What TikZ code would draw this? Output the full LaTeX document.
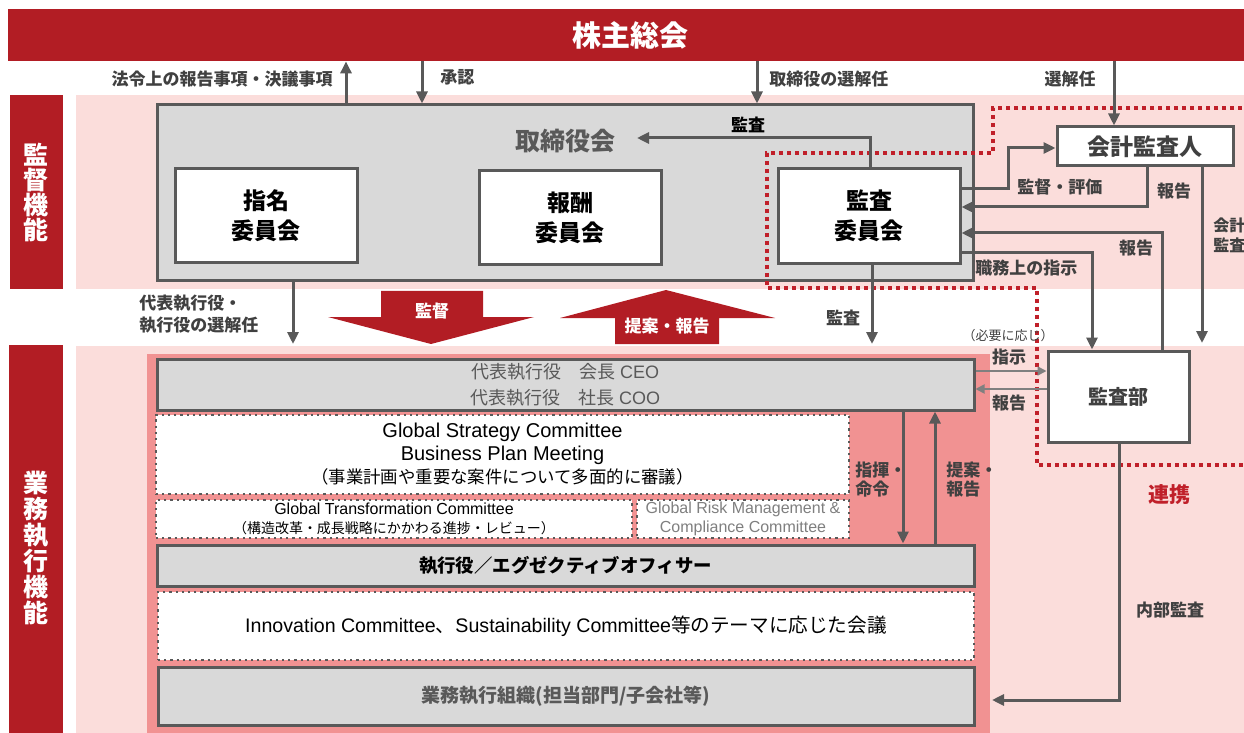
\documentclass[tikz,border=0pt]{standalone}
\usepackage{fontspec}
\setmainfont{Noto Sans CJK JP}
\newfontfamily\lat{Liberation Sans}
\usetikzlibrary{arrows.meta}

\definecolor{dkred}{HTML}{B21D24}
\definecolor{pinkbg}{HTML}{FBDDDB}
\definecolor{salmon}{HTML}{F19292}
\definecolor{boxgray}{HTML}{D9D9D9}
\definecolor{linegray}{HTML}{595959}
\definecolor{thingray}{HTML}{7F7F7F}
\definecolor{txtgray}{HTML}{404040}
\definecolor{dotred}{HTML}{C0202A}

\newcommand{\setfs}[2]{\fontsize{#1}{#2}\selectfont}

\tikzset{
  redbar/.style={fill=dkred, text=white, inner sep=0pt, align=center},
  wbox/.style={draw=linegray, line width=1.5pt, fill=white, inner sep=0pt, align=center},
  gbox/.style={wbox, fill=boxgray},
  dbox/.style={draw=linegray, line width=1.1pt, dotted, fill=white, inner sep=0pt, align=center},
  lbl/.style={text=txtgray, font=\bfseries\setfs{8.5}{11}, inner sep=0pt, align=left},
  arr/.style={->, draw=linegray, line width=1.5pt},
  tarr/.style={-{Triangle[length=4.5pt,width=4.5pt]}, draw=thingray, line width=0.9pt},
  reddot/.style={draw=dotred, line width=2pt, dash pattern=on 2pt off 2pt},
}

\begin{document}
\begin{tikzpicture}[x=0.5pt,y=-0.5pt,>={Triangle[length=6pt,width=5.5pt]}]
  \useasboundingbox (0,0) rectangle (1244,733);
  \clip (0,0) rectangle (1244,733);

  %Background bands
  \fill[pinkbg] (76,95) rectangle (1250,289);   %Supervision band
  \fill[pinkbg] (76,346) rectangle (1250,740);  %Execution band
  \fill[salmon] (147,354) rectangle (990,740);  %Execution organisation

  %Shareholders meeting and side labels
  \node[redbar, minimum width=622pt, minimum height=26pt, font=\bfseries\setfs{14.5}{16}] (gm) at (630,35) {株主総会};
  \node[redbar, minimum width=26.5pt, minimum height=97pt, font=\bfseries\setfs{12.5}{12.5}] (suplbl) at (36.5,192) {監\\督\\機\\能};
  \node[redbar, minimum width=27pt, minimum height=203pt, font=\bfseries\setfs{12.5}{13}] (exelbl) at (36,548) {業\\務\\執\\行\\機\\能};

  %Board of directors and committees
  \node[gbox, minimum width=408pt, minimum height=88pt] (board) at (565,193) {};
  \node[text=linegray, font=\bfseries\setfs{12.5}{14}] (bdtitle) at (565,141) {取締役会};
  \node[wbox, minimum width=91pt, minimum height=47pt, font=\bfseries\setfs{11.5}{15}] (nom) at (266,216) {指名\\委員会};
  \node[wbox, minimum width=91pt, minimum height=47pt, font=\bfseries\setfs{11.5}{15}] (rem) at (570,218) {報酬\\委員会};
  \node[wbox, minimum width=91pt, minimum height=47.5pt, font=\bfseries\setfs{11.5}{15}] (aud) at (869,216) {監査\\委員会};

  %Auditors
  \node[wbox, minimum width=88pt, minimum height=19.5pt, text=txtgray, font=\bfseries\setfs{11.5}{13}] (acct) at (1145,146.5) {会計監査人};
  \node[wbox, minimum width=70.5pt, minimum height=45.5pt, text=txtgray, font=\bfseries\setfs{10}{12}] (iad) at (1118.5,396.5) {監査部};

  %Execution side
  \node[gbox, minimum width=408.5pt, minimum height=25.5pt, text=linegray, font=\setfs{9}{13}] (ceo) at (565.5,384.5)
    {代表執行役\quad 会長 {\lat CEO}\\代表執行役\quad 社長 {\lat COO}};
  \node[dbox, minimum width=346.5pt, minimum height=39.5pt, font=\setfs{8.7}{11.5}] (gsc) at (502.5,454.5)
    {{\lat\setfs{10}{11.5}Global Strategy Committee}\\{\lat\setfs{10}{11.5}Business Plan Meeting}\\（事業計画や重要な案件について多面的に審議）};
  \node[dbox, minimum width=238pt, minimum height=19pt, font=\setfs{7}{9.5}] (gtc) at (394,519)
    {{\lat\setfs{8}{9.5}Global Transformation Committee}\\（構造改革・成長戦略にかかわる進捗・レビュー）};
  \node[dbox, minimum width=106pt, minimum height=19pt, text=thingray, font=\lat\setfs{8}{9.5}] (grc) at (743,519)
    {Global Risk Management \&\\Compliance Committee};
  \node[gbox, minimum width=408.5pt, minimum height=20.5pt, font=\bfseries\setfs{9.2}{11}] (eo) at (565.5,565.5)
    {執行役／エグゼクティブオフィサー};
  \node[dbox, minimum width=408pt, minimum height=34pt, font=\setfs{9.8}{12}] (inno) at (566,626)
    {{\lat Innovation Committee}、{\lat Sustainability Committee}等のテーマに応じた会議};
  \node[gbox, minimum width=408pt, minimum height=29pt, text=linegray, font=\bfseries\setfs{9.5}{11}] (org) at (566,696)
    {業務執行組織(担当部門/子会社等)};

  %Cooperation area of the audit side
  \draw[reddot] (1250,108) -- (993,108) -- (993,153) -- (767,153) -- (767,288)
    -- (1037,288) -- (1037,465) -- (1250,465);
  \node[text=dotred, font=\bfseries\setfs{10.5}{12}] (coop) at (1169,495) {連携};

  %Shareholders meeting <-> board
  \draw[arr] (board.north -| 346,0) -- (gm.south -| 346,0);
  \node[lbl, anchor=east] (lawlbl) at (333,79) {法令上の報告事項・決議事項};
  \draw[arr] (gm.south -| 422,0) -- (board.north -| 422,0);
  \node[lbl, anchor=west] (apprlbl) at (440,77) {承認};
  \draw[arr] (gm.south -| 757,0) -- (board.north -| 757,0);
  \node[lbl, anchor=west] (dirlbl) at (769,79) {取締役の選解任};
  \draw[arr] (gm.south -| 1114,0) -- (acct.north -| 1114,0);
  \node[lbl, anchor=east] (acsellbl) at (1096,79) {選解任};

  %Audit committee links
  \coordinate (audtip) at (637,138);
  \draw[arr] (aud.north -| 870,0) |- (audtip);
  \node[lbl, text=black] (bdaudlbl) at (748,125) {監査};
  \draw[arr] (aud.east |- 0,189) -- (1008,189) |- (acct.west |- 0,148);
  \node[lbl, anchor=west] (evallbl) at (1017,187) {監督・評価};
  \draw[arr] (acct.south -| 1147,0) |- (aud.east |- 0,207);
  \node[lbl] (rep1lbl) at (1174,191) {報告};
  \draw[arr] (iad.north -| 1162,0) |- (aud.east |- 0,233);
  \node[lbl] (rep2lbl) at (1136,248) {報告};
  \draw[arr] (aud.east |- 0,253) -| (iad.north -| 1092,0);
  \node[lbl, anchor=west] (dutylbl) at (975,268) {職務上の指示};
  \coordinate (acctend) at (1202,343);
  \draw[arr] (acct.south -| 1202,0) -- (acctend);
  \node[lbl, anchor=west, font=\bfseries\setfs{8}{10}] (acaudlbl) at (1213,235) {会計\\監査};

  %Board -> execution
  \coordinate (ceoend) at (293,344);
  \draw[arr] (board.south -| 293,0) -- (ceoend);
  \node[lbl, anchor=west] (ceosellbl) at (139,314) {代表執行役・\\執行役の選解任};
  \coordinate (audend) at (872,344);
  \draw[arr] (aud.south -| 872,0) -- (audend);
  \node[lbl] (exauddlbl) at (843,318) {監査};

  %Big block arrows
  \fill[dkred] (381,291) -- (483,291) -- (483,317) -- (534,317) -- (431,344)
    -- (328,317) -- (381,317) -- cycle;
  \node[text=white, font=\bfseries\setfs{8.5}{10}] (suparr) at (432,311) {監督};
  \fill[dkred] (666,290) -- (775,318) -- (719,318) -- (719,344) -- (615,344)
    -- (615,318) -- (560,318) -- cycle;
  \node[text=white, font=\bfseries\setfs{8.5}{10}] (proparr) at (667,326) {提案・報告};

  %CEO <-> internal audit
  \draw[tarr] (ceo.east |- 0,371) -- (iad.west |- 0,371);
  \draw[tarr] (iad.west |- 0,389) -- (ceo.east |- 0,389);
  \node[lbl, font=\setfs{6.5}{8}] (needlbl) at (1008,336) {（必要に応じ）};
  \node[lbl] (instlbl) at (1009,357) {指示};
  \node[lbl] (rep3lbl) at (1009,403) {報告};

  %CEO <-> executive officers
  \draw[arr] (ceo.south -| 903,0) -- (eo.north -| 903,0);
  \node[lbl, anchor=west, font=\bfseries\setfs{8.5}{9.5}] (cmdlbl) at (855,480) {指揮・\\命令};
  \draw[arr] (eo.north -| 935,0) -- (ceo.south -| 935,0);
  \node[lbl, anchor=west, font=\bfseries\setfs{8.5}{9.5}] (prplbl) at (946,480) {提案・\\報告};

  %Internal audit
  \coordinate (orgtip) at (992,700);
  \draw[arr] (iad.south -| 1119,0) |- (orgtip);
  \node[lbl] (inauddlbl) at (1170,610) {内部監査};
\end{tikzpicture}
\end{document}
